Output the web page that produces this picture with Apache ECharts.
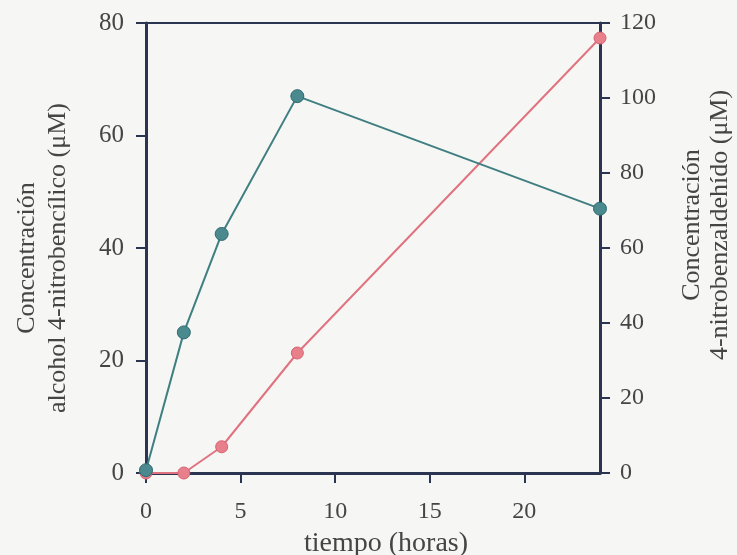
<!DOCTYPE html>
<html>
<head>
<meta charset="utf-8">
<script src="https://cdn.jsdelivr.net/npm/echarts@6/dist/echarts.min.js"></script>
<style>
  html, body { margin: 0; padding: 0; background: #f6f6f4; }
  #chart { width: 737px; height: 555px; }
</style>
</head>
<body>
<div id="chart"></div>
<script>
var tiempo = [0, 2, 4, 8, 24];
var alcohol = [0.5, 25, 42.5, 67, 47];
var aldehido = [0, 0, 7, 32, 116];
var xTicks = [0, 5, 10, 15, 20];

var font = 'Liberation Serif';
var axisColor = '#2b3450';
var textColor = '#454545';

function pairs(xs, ys) {
    return xs.map(function (x, i) { return [x, ys[i]]; });
}

var chart = echarts.init(document.getElementById('chart'));
chart.setOption({
    backgroundColor: '#f6f6f4',
    animation: false,
    grid: {
        left: 146, right: 137, top: 23, bottom: 82,
        outerBoundsMode: 'none',
        show: true, borderColor: axisColor, borderWidth: 2
    },
    xAxis: {
        type: 'value', min: 0, max: 24, interval: 5,
        name: 'tiempo (horas)', nameLocation: 'middle', nameGap: 57,
        nameTextStyle: { fontFamily: font, fontSize: 28, color: textColor, padding: [0, 0, 0, 26] },
        axisLine: { lineStyle: { color: axisColor, width: 3 } },
        axisTick: { length: 10, customValues: xTicks, lineStyle: { color: axisColor, width: 2 } },
        axisLabel: { margin: 27, customValues: xTicks, fontFamily: font, fontSize: 24, color: textColor },
        splitLine: { show: false }
    },
    yAxis: [{
        type: 'value', min: 0, max: 80, interval: 20, position: 'left',
        name: 'Concentración\nalcohol 4-nitrobencílico (μM)',
        nameLocation: 'middle', nameRotate: 90, nameGap: 72,
        nameTextStyle: { fontFamily: font, fontSize: 26, color: textColor, lineHeight: 31, padding: [0, 20, 0, 0] },
        axisLine: { show: true, lineStyle: { color: axisColor, width: 3 } },
        axisTick: { show: true, length: 10, lineStyle: { color: axisColor, width: 2 } },
        axisLabel: { margin: 22, fontFamily: font, fontSize: 25, color: textColor },
        splitLine: { show: false }
    }, {
        type: 'value', min: 0, max: 120, interval: 20, position: 'right',
        name: 'Concentración\n4-nitrobenzaldehído (μM)',
        nameLocation: 'middle', nameRotate: 90, nameGap: 78,
        nameTextStyle: { fontFamily: font, fontSize: 26, color: textColor, lineHeight: 28, padding: [0, 0, 0, 46] },
        axisLine: { show: true, lineStyle: { color: axisColor, width: 3 } },
        axisTick: { show: true, length: 10, lineStyle: { color: axisColor, width: 2 } },
        axisLabel: { margin: 20, fontFamily: font, fontSize: 24, color: textColor },
        splitLine: { show: false }
    }],
    series: [{
        type: 'line', yAxisIndex: 1,
        data: pairs(tiempo, aldehido),
        symbol: 'circle', symbolSize: 12,
        lineStyle: { color: '#e0737f', width: 2 },
        itemStyle: { color: '#e8808c', borderColor: '#d86070', borderWidth: 1 }
    }, {
        type: 'line', yAxisIndex: 0,
        data: pairs(tiempo, alcohol),
        symbol: 'circle', symbolSize: 13,
        lineStyle: { color: '#3f7f82', width: 2 },
        itemStyle: { color: '#4a8a8e', borderColor: '#2f6a70', borderWidth: 1 }
    }]
});
</script>
</body>
</html>
